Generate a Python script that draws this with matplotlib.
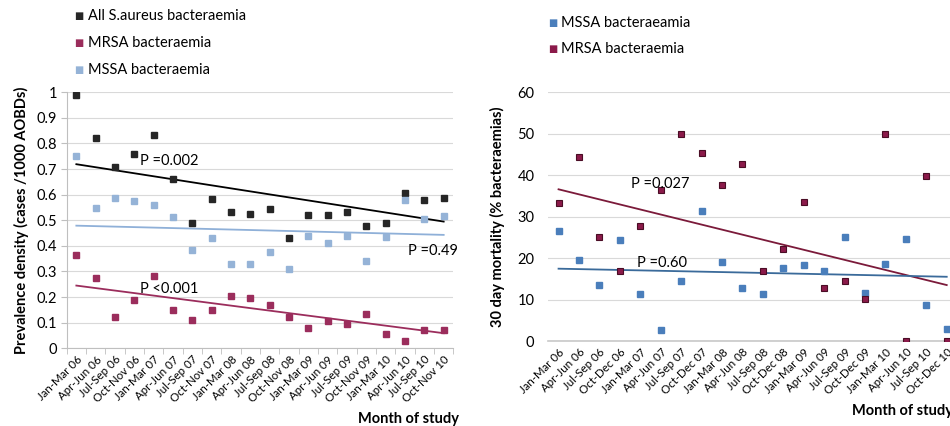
import numpy as np
import matplotlib.pyplot as plt

plt.rcParams['font.family'] = ['Lato', 'DejaVu Sans']

# Left chart: prevalence density (cases / 1000 AOBDs)
quarters_left = ['Jan-Mar 06', 'Apr-Jun 06', 'Jul-Sep 06', 'Oct-Nov 06',
                 'Jan-Mar 07', 'Apr-Jun 07', 'Jul-Sep 07', 'Oct-Nov 07',
                 'Jan-Mar 08', 'Apr-Jun 08', 'Jul-Sep 08', 'Oct-Nov 08',
                 'Jan-Mar 09', 'Apr-Jun 09', 'Jul-Sep 09', 'Oct-Nov 09',
                 'Jan-Mar 10', 'Apr-Jun 10', 'Jul-Sep 10', 'Oct-Nov 10']
all_sa = [0.99, 0.82, 0.71, 0.76, 0.835, 0.66, 0.49, 0.583, 0.534, 0.524,
          0.545, 0.432, 0.52, 0.52, 0.534, 0.476, 0.49, 0.608, 0.58, 0.587]
mrsa_left = [0.366, 0.276, 0.123, 0.188, 0.283, 0.148, 0.112, 0.15, 0.205, 0.195,
             0.168, 0.122, 0.079, 0.108, 0.096, 0.134, 0.055, 0.027, 0.072, 0.072]
mssa_left = [0.753, 0.549, 0.588, 0.576, 0.559, 0.512, 0.382, 0.432, 0.329, 0.329,
             0.375, 0.31, 0.44, 0.41, 0.438, 0.341, 0.436, 0.58, 0.505, 0.518]
# fitted trend lines (value at first and last quarter), as shown in the figure
trend_all = [0.719, 0.495]
trend_mssa_left = [0.479, 0.443]
trend_mrsa_left = [0.245, 0.059]

# Right chart: 30 day mortality (% bacteraemias)
quarters_right = ['Jan-Mar 06', 'Apr-Jun 06', 'Jul-Sep 06', 'Oct-Dec 06',
                  'Jan-Mar 07', 'Apr-Jun 07', 'Jul-Sep 07', 'Oct-Dec 07',
                  'Jan-Mar 08', 'Apr-Jun 08', 'Jul-Sep 08', 'Oct-Dec 08',
                  'Jan-Mar 09', 'Apr-Jun 09', 'Jul-Sep 09', 'Oct-Dec 09',
                  'Jan-Mar 10', 'Apr-Jun 10', 'Jul-Sep 10', 'Oct-Dec 10']
mssa_mort = [26.5, 19.5, 13.4, 24.3, 11.3, 2.7, 14.4, 31.3, 19.1, 12.8,
             11.3, 17.5, 18.3, 16.9, 25.1, 11.7, 18.7, 24.5, 8.7, 2.8]
mrsa_mort = [33.4, 44.3, 25.1, 16.9, 27.7, 36.4, 50.0, 45.3, 37.7, 42.7,
             16.9, 22.2, 33.5, 12.8, 14.5, 10.1, 50.0, 0.0, 39.9, 0.0]
trend_mrsa_right = [36.6, 13.5]
trend_mssa_right = [17.45, 15.5]

c_all = '#262626'
c_mrsa_l = '#9b2d5c'
c_mssa_l = '#95b3d7'
c_mssa_r = '#4a7ebb'
c_mrsa_r = '#8b1a4a'
grid_c = '#d9d9d9'

W, H = 950, 426


def trend(ax, ends, n, color):
    ax.plot([0, n - 1], ends, color=color, lw=1.3, zorder=2)


def px_text(x, y, s, **kw):
    # place text using pixel coordinates measured from the top-left corner
    fig.text(x / W, 1 - y / H, s, **kw)


fig = plt.figure(figsize=(9.5, 4.26), dpi=100)

# ---- left panel
ax1 = fig.add_axes([0.0702, 0.1824, 0.407, 0.601])
n = len(quarters_left)
x = np.arange(n)
for y, c in [(all_sa, c_all), (mrsa_left, c_mrsa_l), (mssa_left, c_mssa_l)]:
    ax1.plot(x, y, 's', color=c, ms=5, mec=c, zorder=3)
trend(ax1, trend_all, n, 'black')
trend(ax1, trend_mssa_left, n, '#8fb0d8')
trend(ax1, trend_mrsa_left, n, '#9b2d5c')
ax1.set_xlim(-0.5, n - 0.5)
ax1.set_ylim(0, 1)
ax1.set_yticks(np.arange(0, 1.01, 0.1))
ax1.set_yticklabels(['0', '0.1', '0.2', '0.3', '0.4', '0.5', '0.6', '0.7', '0.8', '0.9', '1'],
                    fontsize=10.5)
ax1.set_xticks(x)
ax1.set_xticklabels(quarters_left, rotation=45, ha='right', rotation_mode='anchor',
                    fontsize=8.3)
ax1.set_xticks(np.arange(-0.5, n), minor=True)
ax1.tick_params(axis='x', which='major', length=0, pad=4)
ax1.tick_params(axis='x', which='minor', length=4, color='#bfbfbf')
ax1.tick_params(axis='y', length=4, color='#bfbfbf', pad=3)
ax1.grid(axis='y', color=grid_c, lw=0.8)
ax1.set_axisbelow(True)
for s in ['top', 'right']:
    ax1.spines[s].set_visible(False)
ax1.spines['left'].set_color('#bfbfbf')
ax1.spines['bottom'].set_color('#bfbfbf')
ax1.set_ylabel('Prevalence density (cases /1000 AOBDs)', fontsize=10.5,
               fontweight='bold', labelpad=5)
px_text(140, 161, 'P =0.002', fontsize=10.5, va='center')
px_text(140, 289, 'P <0.001', fontsize=10.5, va='center')
px_text(408, 251, 'P =0.49', fontsize=10.5, va='center')

# ---- right panel (runs off the right edge of the figure)
ax2 = fig.add_axes([0.5772, 0.1995, 0.4301, 0.5838])
n = len(quarters_right)
x = np.arange(n)
ax2.plot(x, mssa_mort, 's', color=c_mssa_r, ms=5, mec=c_mssa_r, zorder=3)
ax2.plot(x, mrsa_mort, 's', color=c_mrsa_r, ms=5, mec='#4a0d25', mew=0.8, zorder=3)
trend(ax2, trend_mrsa_right, n, '#7b1a3a')
trend(ax2, trend_mssa_right, n, '#3a6a9a')
ax2.set_xlim(-0.5, n - 0.5)
ax2.set_ylim(0, 60)
ax2.set_yticks(range(0, 61, 10))
ax2.tick_params(axis='y', length=0, labelsize=10.5, pad=10)
ax2.set_xticks(x)
ax2.set_xticklabels(quarters_right, rotation=45, ha='right', rotation_mode='anchor',
                    fontsize=8.3)
ax2.tick_params(axis='x', length=0, pad=4)
ax2.grid(axis='y', color=grid_c, lw=0.8)
ax2.set_axisbelow(True)
for s in ['top', 'right', 'left']:
    ax2.spines[s].set_visible(False)
ax2.spines['bottom'].set_color('#c8c8c8')
ax2.spines['bottom'].set_linewidth(1.2)
ax2.set_ylabel('30 day mortality (% bacteraemias)', fontsize=10.5,
               fontweight='bold', labelpad=9)
px_text(631, 184, 'P =0.027', fontsize=10.5, va='center')
px_text(637, 263, 'P =0.60', fontsize=10.5, va='center')

# legends drawn as marker + text rows, like the original
for yy, lab, c in [(16, 'All S.aureus bacteraemia', c_all),
                   (43, 'MRSA bacteraemia', c_mrsa_l),
                   (70, 'MSSA bacteraemia', c_mssa_l)]:
    px_text(79, yy, '\u25a0', color=c, fontsize=7, ha='center', va='center',
            family='DejaVu Sans')
    px_text(88, yy, lab, fontsize=10.5, va='center')
for yy, lab, c in [(23, 'MSSA bacteraeamia', c_mssa_r),
                   (49, 'MRSA bacteraemia', c_mrsa_r)]:
    px_text(553, yy, '\u25a0', color=c, fontsize=7, ha='center', va='center',
            family='DejaVu Sans')
    px_text(561, yy, lab, fontsize=10.5, va='center')

px_text(358, 419, 'Month of study', fontsize=10.5, fontweight='bold', va='center')
px_text(852, 411, 'Month of study', fontsize=10.5, fontweight='bold', va='center')

fig.savefig('out.png', dpi=100)
